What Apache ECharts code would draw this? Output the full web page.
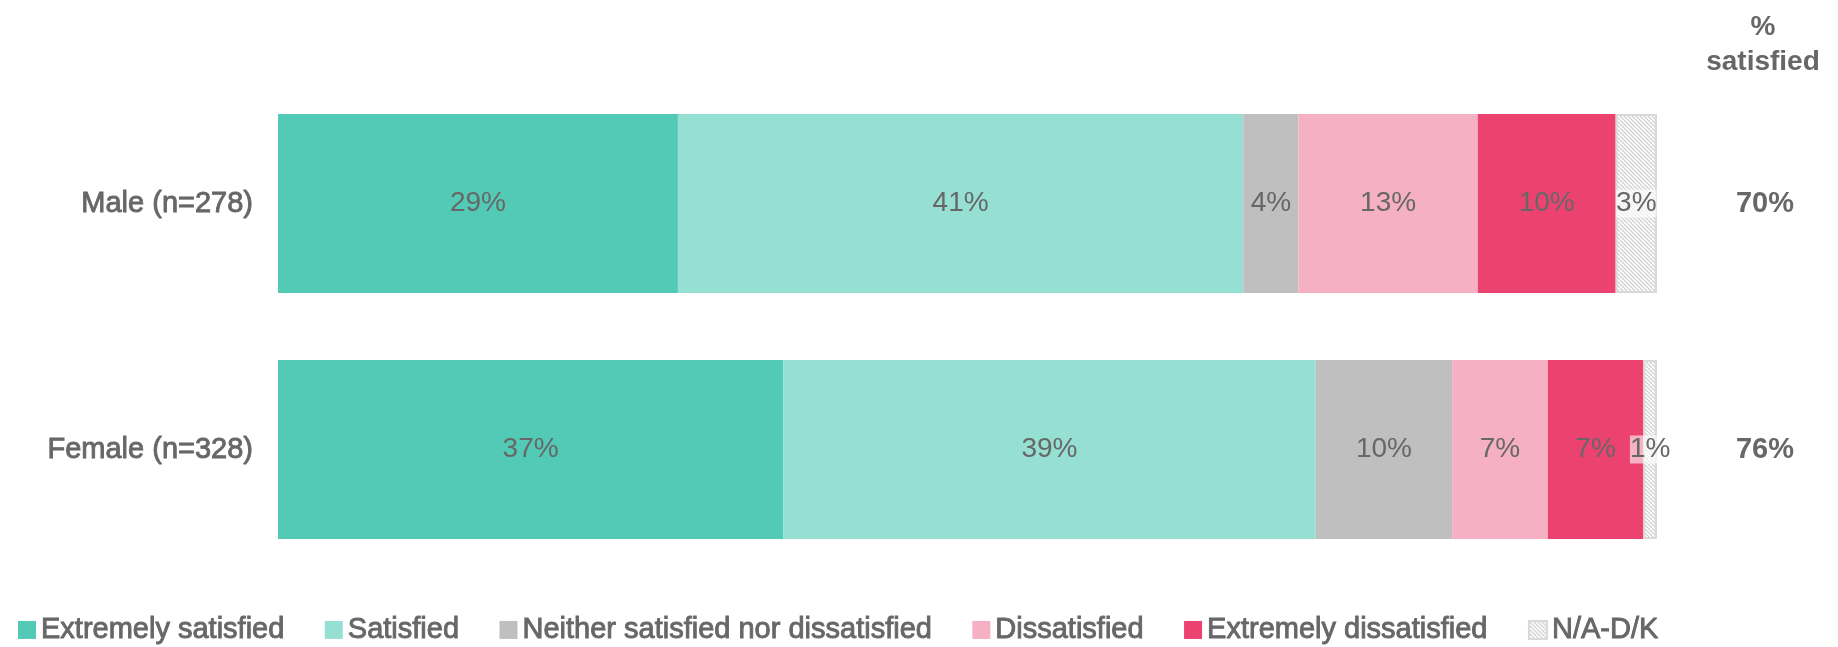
<!DOCTYPE html>
<html>
<head>
<meta charset="utf-8">
<title>Satisfaction by gender</title>
<script src="https://cdn.jsdelivr.net/npm/echarts@6/dist/echarts.min.js"></script>
<style>
  html, body { margin: 0; padding: 0; background: #fff; }
  #chart { width: 1838px; height: 647px; }
</style>
</head>
<body>
<div id="chart"></div>
<script>
// Respondent groups (top to bottom)
const categories = ['Male (n=278)', 'Female (n=328)'];

// Response levels, in stacking order
const seriesNames = [
  'Extremely satisfied',
  'Satisfied',
  'Neither satisfied nor dissatisfied',
  'Dissatisfied',
  'Extremely dissatisfied',
  'N/A-D/K'
];

// Share of each group giving each response (%)
const extremelySatisfied    = [29, 37];
const satisfied             = [41, 39];
const neither               = [4, 10];
const dissatisfied          = [13, 7];
const extremelyDissatisfied = [10, 7];
const notApplicable         = [3, 1];

// Total satisfied per group (extremely satisfied + satisfied)
const satisfiedPct = ['70%', '76%'];

const seriesValues = [
  extremelySatisfied, satisfied, neither,
  dissatisfied, extremelyDissatisfied, notApplicable
];

// Hatched fill for the N/A-D/K segment
function hatchPattern() {
  const c = document.createElement('canvas');
  c.width = 8; c.height = 8;
  const g = c.getContext('2d');
  g.fillStyle = '#ffffff';
  g.fillRect(0, 0, 8, 8);
  g.strokeStyle = '#d2d2d2';
  g.lineWidth = 1.3;
  for (let o = -8; o <= 8; o += 4) {
    g.beginPath();
    g.moveTo(o, 0);
    g.lineTo(o + 8, 8);
    g.stroke();
  }
  return { image: c, repeat: 'repeat' };
}

const colors = ['#52cab5', '#96e0d3', '#bfbfbf', '#f5b1c3', '#ec4270', hatchPattern()];

// Each bar is drawn as a 100% stack of its own row total
const rowTotals = categories.map((_, i) =>
  seriesValues.reduce((s, arr) => s + arr[i], 0));

const textGrey = '#676767';
const FONT = '"Liberation Sans", Arial, sans-serif';

const series = seriesNames.map((name, k) => {
  const isNA = k === seriesNames.length - 1;
  return {
    name: name,
    type: 'bar',
    stack: 'total',
    barWidth: 179,
    data: seriesValues[k].map((v, i) => ({
      value: v / rowTotals[i] * 100,
      raw: v
    })),
    itemStyle: isNA
      ? { color: colors[k], borderColor: '#d9d9d9', borderWidth: 2 }
      : { color: colors[k] },
    label: {
      show: true,
      position: 'inside',
      formatter: p => p.data.raw + '%',
      color: textGrey,
      fontFamily: FONT,
      fontSize: 28,
      backgroundColor: isNA ? 'rgba(255,255,255,0.6)' : 'transparent'
    },
    emphasis: { disabled: true }
  };
});

const chart = echarts.init(document.getElementById('chart'), null, { renderer: 'canvas' });

chart.setOption({
  animation: false,
  backgroundColor: '#ffffff',
  title: {
    text: '%\nsatisfied',
    left: 1763,
    top: 10,
    textAlign: 'center',
    padding: 0,
    textStyle: {
      fontFamily: FONT,
      fontSize: 28,
      fontWeight: 'bold',
      color: textGrey,
      lineHeight: 35
    }
  },
  legend: {
    left: 13,
    top: 610,
    itemWidth: 18,
    itemHeight: 18,
    itemGap: 40,
    icon: 'rect',
    data: seriesNames,
    textStyle: {
      fontFamily: FONT,
      fontSize: 29,
      color: textGrey,
      textBorderColor: textGrey,
      textBorderWidth: 0.9
    }
  },
  grid: {
    left: 278,
    right: 181,
    top: 80.5,
    bottom: 74.5,
    containLabel: false
  },
  xAxis: {
    type: 'value',
    min: 0,
    max: 100,
    show: false
  },
  yAxis: [
    {
      type: 'category',
      inverse: true,
      data: categories,
      axisLine: { show: false },
      axisTick: { show: false },
      axisLabel: {
        margin: 25,
        fontFamily: FONT,
        fontSize: 29,
        color: textGrey,
        textBorderColor: textGrey,
        textBorderWidth: 0.9
      }
    },
    {
      type: 'category',
      inverse: true,
      position: 'right',
      data: satisfiedPct,
      axisLine: { show: false },
      axisTick: { show: false },
      axisLabel: {
        margin: 108,
        align: 'center',
        padding: [0, 0, 16, 0],
        fontFamily: FONT,
        fontSize: 29,
        fontWeight: 'bold',
        color: textGrey
      }
    }
  ],
  series: series
});
</script>
</body>
</html>
